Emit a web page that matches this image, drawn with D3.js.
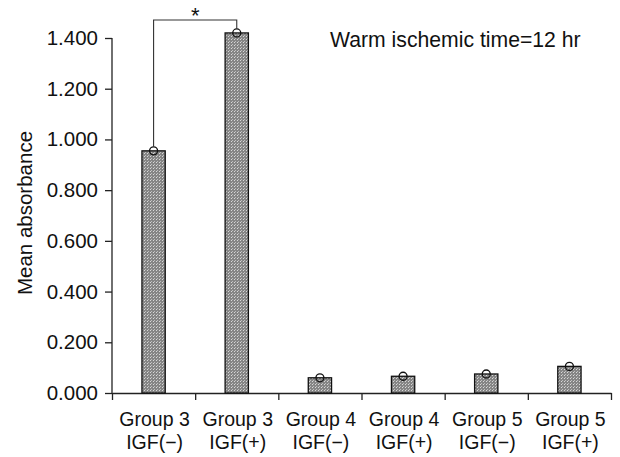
<!DOCTYPE html>
<html><head><meta charset="utf-8">
<script src="https://cdn.jsdelivr.net/npm/d3@7/dist/d3.min.js"></script>
<style>body{margin:0;background:#fff}svg{display:block}text{font-family:"Liberation Sans",Arial,sans-serif;fill:#111}</style>
</head><body><svg id="c" width="620" height="457"></svg>
<script>
const groups = ["Group 3","Group 3","Group 4","Group 4","Group 5","Group 5"];
const igf = ["IGF(\u2212)","IGF(+)","IGF(\u2212)","IGF(+)","IGF(\u2212)","IGF(+)"];
const values = [0.955, 1.420, 0.060, 0.066, 0.075, 0.105];
const yTicks = [0, 0.2, 0.4, 0.6, 0.8, 1.0, 1.2, 1.4];
const titleText = "Warm ischemic time=12 hr";
const yLabel = "Mean absorbance";
const sigPair = [0, 1];

const svg = d3.select("#c");
const defs = svg.append("defs");
const pat = defs.append("pattern").attr("id","hatch").attr("patternUnits","userSpaceOnUse").attr("width",3).attr("height",3);
pat.append("rect").attr("width",3).attr("height",3).attr("fill","#858585");
pat.append("rect").attr("width",1).attr("height",1).attr("fill","#d8d8d8");
pat.append("rect").attr("x",1).attr("y",2).attr("width",1).attr("height",1).attr("fill","#bdbdbd");

const x0 = 112, x1 = 611, yTop = 38, yBot = 393;
const idx = d3.range(values.length);
const x = d3.scaleBand().domain(idx).range([x0, x1]).padding(0);
const y = d3.scaleLinear().domain([0, 1.4]).range([yBot, yTop]);
const bw = x.bandwidth() * 0.28;

// y axis
const yAxis = d3.axisLeft(y).tickValues(yTicks).tickFormat(d3.format(".3f")).tickSize(7).tickPadding(7);
const gy = svg.append("g").attr("transform", `translate(${x0},0)`).call(yAxis);
gy.select(".domain").attr("d", `M0,${yBot}V${yTop}`).attr("stroke","#222").attr("stroke-width",1.3);
gy.selectAll(".tick line").attr("stroke","#222").attr("stroke-width",1.3);
gy.selectAll(".tick text").attr("font-size",20.5).attr("fill","#111").attr("font-family","Liberation Sans, Arial, sans-serif");

// x axis
const xs = d3.scaleLinear().domain([0, values.length]).range([x0, x1]);
const xAxis = d3.axisBottom(xs).tickValues(d3.range(values.length + 1)).tickFormat("").tickSize(7).tickSizeOuter(0);
const gx = svg.append("g").attr("transform", `translate(0,${yBot})`).call(xAxis);
gx.select(".domain").attr("stroke","#222").attr("stroke-width",1.3);
gx.selectAll(".tick line").attr("stroke","#222").attr("stroke-width",1.3);

// x labels
const lab = svg.append("g");
idx.forEach(i => {
  const cx = x(i) + x.bandwidth() / 2 + 1;
  lab.append("text").attr("x", cx).attr("y", 426).attr("text-anchor","middle").attr("font-size",19.5).text(groups[i]);
  lab.append("text").attr("x", cx).attr("y", 449).attr("text-anchor","middle").attr("font-size",19.5).text(igf[i]);
});

// bars
svg.append("g").selectAll("rect").data(values).join("rect")
  .attr("x", (d,i) => x(i) + x.bandwidth()/2 - bw/2)
  .attr("y", d => y(d))
  .attr("width", bw)
  .attr("height", d => yBot - y(d))
  .attr("fill", "url(#hatch)")
  .attr("stroke", "#111").attr("stroke-width", 1.3);

// circles
svg.append("g").selectAll("circle").data(values).join("circle")
  .attr("cx", (d,i) => x(i) + x.bandwidth()/2)
  .attr("cy", d => y(d))
  .attr("r", 4)
  .attr("fill", "none")
  .attr("stroke", "#111").attr("stroke-width", 1.3);

// significance bracket
const bx1 = x(sigPair[0]) + x.bandwidth()/2, bx2 = x(sigPair[1]) + x.bandwidth()/2;
const by = 20;
svg.append("path")
  .attr("d", `M${bx1},${y(values[sigPair[0]]) - 4}V${by}H${bx2}V${y(values[sigPair[1]]) - 4}`)
  .attr("fill","none").attr("stroke","#333").attr("stroke-width",1.1);
svg.append("text").attr("x", (bx1+bx2)/2).attr("y", 23).attr("text-anchor","middle").attr("font-size",22).text("*");

// title
svg.append("text").attr("x", 330).attr("y", 47).attr("font-size", 21.2).text(titleText);

// y label
svg.append("text").attr("transform", "translate(32,213) rotate(-90)").attr("text-anchor","middle").attr("font-size",20.5).text(yLabel);
</script></body></html>
